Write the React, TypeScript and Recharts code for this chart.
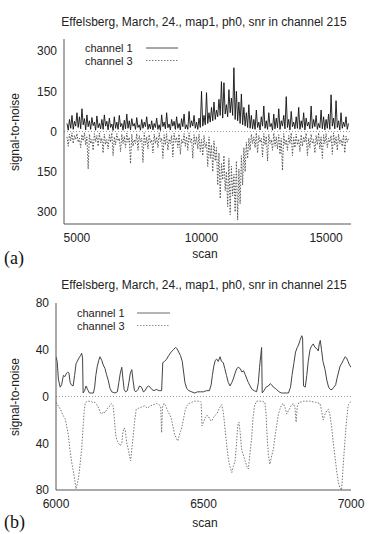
import React from 'react';
import { LineChart, Line, XAxis, YAxis, ReferenceLine } from 'recharts';

const TITLE = 'Effelsberg, March, 24., map1, ph0, snr in channel 215';
const SERIES_NAMES = ['channel 1', 'channel 3'];
const X_LABEL = 'scan';
const Y_LABEL = 'signal-to-noise';
const PANEL_LABELS = ['(a)', '(b)'];

// Panel (a): scans sampled every 50 from 4600
const A_SCAN_START = 4600;
const A_SCAN_STEP = 50;
const A_CH1 = [
  30, 5, 45, 12, 60, 8, 38, 20,
  70, 15, 55, 10, 85, 25, 48, 6, 62, 18, 40, 8, 52, 22, 35, 5, 58, 14, 30, 10,
  45, 8, 62, 20, 38, 6, 50, 15, 28, 4, 55, 12, 35, 8, 60, 18, 30, 5, 42, 10,
  65, 12, 40, 6, 48, 20, 30, 8, 52, 15, 25, 5, 45, 12, 35, 18, 55, 8, 28, 10,
  40, 6, 30, 15, 50, 8, 25, 4, 62, 18, 35, 10, 70, 14, 28, 6, 45, 20, 38, 8,
  55, 12, 30, 6, 48, 18, 65, 10, 25, 8, 75, 15, 40, 20, 60, 12, 35, 8, 50, 15,
  150, 20, 60, 25, 145, 30, 70, 35, 90, 40, 110, 45, 80, 55, 120, 60, 186, 50, 182, 65,
  100, 55, 156, 70, 125, 60, 238, 45, 150, 40, 110, 30, 140, 25, 90, 20, 70, 15, 100, 12,
  60, 10, 45, 8, 80, 15, 35, 6, 55, 20, 95, 12, 40, 8, 70, 18, 30, 5, 65, 10,
  50, 14, 85, 8, 40, 20, 60, 10, 130, 15, 45, 6, 75, 18, 35, 10, 55, 12, 90, 8,
  40, 15, 70, 6, 50, 20, 35, 10, 95, 12, 45, 18, 60, 8, 30, 14, 80, 10, 55, 6,
  45, 12, 65, 8, 137, 20, 50, 10, 115, 15, 40, 6, 70, 12, 35, 18, 55, 8, 30,
];
const A_CH3 = [
  -20, -55, -10, -35, -5, -45, -15, -30,
  -8, -40, -25, -60, -12, -35, -5, -50, -20, -140, -10, -45, -30, -70, -8, -38, -15, -55, -6, -42,
  -25, -80, -10, -48, -30, -65, -12, -40, -5, -90, -20, -50, -8, -35, -25, -75, -10, -45, -18, -60,
  -6, -40, -22, -120, -10, -55, -30, -45, -8, -70, -15, -38, -25, -115, -5, -50, -20, -65, -12, -42,
  -30, -80, -10, -45, -20, -60, -5, -38, -25, -100, -12, -50, -8, -70, -28, -45, -15, -95, -6, -40,
  -22, -60, -10, -85, -30, -45, -8, -55, -18, -70, -5, -40, -25, -100, -12, -50, -20, -65, -10, -75,
  -30, -90, -15, -60, -40, -130, -20, -100, -50, -150, -35, -110, -60, -200, -80, -250, -120, -180, -90, -220,
  -150, -280, -100, -310, -130, -240, -160, -300, -110, -330, -140, -270, -90, -200, -60, -150, -40, -100, -25, -70,
  -10, -45, -20, -60, -5, -80, -15, -40, -25, -95, -8, -50, -18, -110, -10, -45, -30, -70, -6, -55,
  -20, -65, -12, -85, -25, -145, -8, -50, -30, -70, -15, -45, -5, -90, -22, -60, -10, -50, -28, -75,
  -12, -55, -20, -40, -6, -90, -25, -60, -10, -45, -30, -80, -15, -50, -5, -65, -20, -100, -12, -45,
  -8, -60, -25, -40, -15, -85, -5, -50, -20, -70, -10, -45, -30, -55, -12, -80, -18, -40, -25,
];
const A_X_TICKS = [5000, 10000, 15000];
const A_Y_TICKS = [-300, -150, 0, 150, 300];

// Panel (b): [scan, snr] pairs
const B_CH1: [number, number][] = [
  [6000, 34], [6004, 30], [6008, 15], [6014, 8], [6019, 10], [6025, 18], [6030, 17], [6036, 20], [6040, 21], [6044, 20],
  [6048, 12], [6052, 10], [6058, 9], [6063, 18], [6068, 28], [6072, 30], [6078, 33], [6083, 35], [6087, 37], [6090, 33],
  [6092, 3], [6097, 5], [6102, 9], [6107, 6], [6113, 3], [6120, 3], [6127, 3], [6131, 8], [6135, 18], [6140, 26],
  [6145, 31], [6149, 34], [6155, 31], [6160, 27], [6166, 24], [6171, 19], [6177, 14], [6183, 7], [6189, 4], [6200, 3],
  [6208, 4], [6213, 12], [6218, 20], [6223, 25], [6227, 15], [6231, 6], [6236, 4], [6242, 5], [6247, 12], [6252, 20],
  [6257, 23], [6261, 14], [6266, 5], [6271, 4], [6278, 6], [6283, 9], [6290, 8], [6296, 4], [6302, 5], [6308, 8],
  [6314, 9], [6319, 8], [6325, 6], [6332, 5], [6340, 6], [6350, 5], [6358, 5], [6362, 29], [6368, 30], [6375, 32],
  [6382, 35], [6390, 38], [6398, 40], [6405, 42], [6410, 41], [6416, 38], [6422, 35], [6428, 30], [6433, 20], [6437, 12],
  [6443, 7], [6450, 5], [6460, 4], [6470, 3], [6480, 4], [6490, 4], [6500, 4], [6510, 5], [6520, 5], [6526, 10],
  [6530, 18], [6535, 26], [6540, 31], [6545, 32], [6550, 30], [6556, 34], [6561, 30], [6567, 29], [6572, 24], [6578, 18],
  [6584, 12], [6590, 9], [6596, 12], [6601, 15], [6607, 20], [6613, 24], [6618, 25], [6624, 24], [6630, 21], [6636, 22],
  [6641, 19], [6647, 15], [6652, 12], [6658, 9], [6665, 6], [6672, 5], [6680, 4], [6686, 12], [6690, 25], [6694, 35],
  [6697, 42], [6699, 3], [6705, 5], [6712, 8], [6720, 9], [6726, 11], [6731, 10], [6737, 8], [6743, 7], [6748, 6],
  [6756, 4], [6764, 3], [6772, 3], [6780, 3], [6788, 3], [6795, 8], [6800, 18], [6806, 28], [6812, 38], [6818, 42],
  [6822, 44], [6827, 48], [6833, 52], [6836, 50], [6839, 9], [6845, 8], [6850, 18], [6855, 30], [6861, 40], [6866, 43],
  [6872, 45], [6878, 42], [6884, 41], [6889, 39], [6893, 46], [6896, 48], [6900, 40], [6905, 30], [6912, 23], [6918, 14],
  [6924, 8], [6930, 6], [6936, 6], [6942, 8], [6948, 10], [6953, 16], [6958, 21], [6963, 26], [6968, 28], [6974, 31],
  [6980, 34], [6985, 33], [6990, 30], [6995, 27], [7000, 25],
];
const B_CH3: [number, number][] = [
  [6000, -5], [6005, -7], [6010, -9], [6015, -11], [6020, -14], [6026, -17], [6031, -19], [6036, -25], [6042, -33], [6047, -45],
  [6053, -56], [6058, -63], [6064, -72], [6068, -79], [6072, -75], [6076, -70], [6080, -62], [6084, -52], [6087, -45], [6090, -33],
  [6093, -22], [6096, -12], [6099, -6], [6105, -4], [6115, -4], [6125, -5], [6132, -5], [6138, -7], [6145, -10], [6150, -14],
  [6155, -15], [6160, -13], [6166, -14], [6172, -11], [6178, -9], [6183, -8], [6188, -6], [6194, -8], [6198, -20], [6202, -32],
  [6206, -37], [6212, -40], [6218, -42], [6223, -40], [6227, -30], [6231, -27], [6235, -29], [6240, -40], [6245, -45], [6250, -52],
  [6253, -55], [6257, -45], [6262, -33], [6267, -20], [6272, -11], [6280, -10], [6290, -9], [6300, -8], [6310, -10], [6320, -8],
  [6330, -7], [6340, -6], [6350, -7], [6355, -9], [6358, -31], [6361, -9], [6366, -6], [6372, -8], [6378, -12], [6384, -15],
  [6390, -18], [6396, -25], [6402, -32], [6408, -36], [6413, -38], [6418, -33], [6422, -30], [6428, -25], [6433, -18], [6438, -12],
  [6443, -8], [6450, -6], [6460, -5], [6470, -4], [6480, -4], [6488, -4], [6492, -5], [6495, -25], [6500, -22], [6506, -18],
  [6511, -16], [6517, -17], [6522, -20], [6528, -21], [6534, -18], [6540, -16], [6545, -15], [6550, -12], [6556, -9], [6562, -7],
  [6568, -15], [6573, -28], [6579, -42], [6585, -55], [6590, -60], [6596, -65], [6601, -60], [6607, -55], [6612, -40], [6616, -25],
  [6620, -22], [6624, -30], [6629, -45], [6635, -50], [6641, -55], [6647, -60], [6652, -62], [6657, -50], [6663, -36], [6668, -18],
  [6673, -8], [6680, -4], [6690, -4], [6700, -4], [6708, -5], [6712, -15], [6716, -35], [6720, -50], [6725, -58], [6730, -52],
  [6737, -45], [6742, -35], [6748, -25], [6754, -15], [6759, -11], [6765, -7], [6771, -6], [6777, -10], [6782, -15], [6788, -12],
  [6793, -10], [6799, -7], [6805, -6], [6810, -10], [6814, -22], [6818, -8], [6824, -5], [6840, -4], [6860, -4], [6880, -5],
  [6895, -6], [6900, -12], [6906, -20], [6912, -15], [6918, -12], [6923, -11], [6928, -15], [6934, -25], [6940, -40], [6946, -52],
  [6952, -65], [6957, -73], [6962, -78], [6968, -80], [6972, -65], [6976, -50], [6980, -36], [6985, -20], [6991, -7], [7000, -4],
];
const B_X_TICKS = [6000, 6500, 7000];
const B_Y_TICKS = [-80, -40, 0, 40, 80];

const FONT = '"Liberation Sans", Arial, sans-serif';
const AXIS = '#555';
const TEXT = '#222';

const aCh1 = A_CH1.map((y, i) => ({ x: A_SCAN_START + i * A_SCAN_STEP, y }));
const aCh3 = A_CH3.map((y, i) => ({ x: A_SCAN_START + i * A_SCAN_STEP, y }));
const bCh1 = B_CH1.map(([x, y]) => ({ x, y }));
const bCh3 = B_CH3.map(([x, y]) => ({ x, y }));

type PanelProps = {
  height: number;
  margin: { top: number; right: number; bottom: number; left: number };
  xDomain: [number, number];
  yDomain: [number, number];
  xTicks: number[];
  yTicks: number[];
  ch1: { x: number; y: number }[];
  ch3: { x: number; y: number }[];
  ch1Color: string;
  ch3Color: string;
  ch1Width: number;
};

function Panel(p: PanelProps) {
  const tickStyle = { fill: TEXT, fontSize: 12, fontFamily: FONT };
  return (
    <LineChart width={374} height={p.height} margin={p.margin}>
      <XAxis xAxisId="b" type="number" dataKey="x" domain={p.xDomain} ticks={p.xTicks} allowDataOverflow
        tickSize={0} tickMargin={9} height={20} axisLine={{ stroke: AXIS }} tickLine={false} tick={tickStyle} />
      <XAxis xAxisId="bi" type="number" dataKey="x" domain={p.xDomain} ticks={p.xTicks} allowDataOverflow mirror
        tick={false} axisLine={false} tickLine={{ stroke: AXIS }} tickSize={5} height={0} />
      <XAxis xAxisId="t" orientation="top" type="number" dataKey="x" domain={p.xDomain} ticks={p.xTicks} allowDataOverflow mirror
        tick={false} axisLine={{ stroke: AXIS }} tickLine={{ stroke: AXIS }} tickSize={5} height={0} />
      <YAxis yAxisId="l" type="number" dataKey="y" domain={p.yDomain} ticks={p.yTicks} allowDataOverflow
        tickSize={0} tickMargin={7} width={40} axisLine={{ stroke: AXIS }} tickLine={false} tick={tickStyle}
        tickFormatter={(v: number) => String(Math.abs(v))} />
      <YAxis yAxisId="li" type="number" dataKey="y" domain={p.yDomain} ticks={p.yTicks} allowDataOverflow mirror
        tick={false} axisLine={false} tickLine={{ stroke: AXIS }} tickSize={5} width={0} />
      <YAxis yAxisId="r" orientation="right" type="number" dataKey="y" domain={p.yDomain} ticks={p.yTicks} allowDataOverflow mirror
        tick={false} axisLine={{ stroke: AXIS }} tickLine={{ stroke: AXIS }} tickSize={5} width={0} />
      <ReferenceLine xAxisId="b" yAxisId="l" y={0} stroke="#999" strokeDasharray="1 2" />
      <Line xAxisId="b" yAxisId="l" data={p.ch3} dataKey="y" type="linear" stroke={p.ch3Color}
        strokeWidth={1} strokeDasharray="1.5 1.5" dot={false} isAnimationActive={false} />
      <Line xAxisId="b" yAxisId="l" data={p.ch1} dataKey="y" type="linear" stroke={p.ch1Color}
        strokeWidth={p.ch1Width} dot={false} isAnimationActive={false} />
    </LineChart>
  );
}

function Labels(p: { titleY: number; scanY: number; panelY: number; yLabelCy: number;
  legendX: number; legendY: number; sampleX1: number; sampleX2: number; panel: string; ch1Color: string; ch3Color: string; }) {
  const gap = 12.5;
  return (
    <g>
      <text x={204} y={p.titleY} textAnchor="middle" fontFamily={FONT} fontSize={12} fill={TEXT}>{TITLE}</text>
      <text x={205} y={p.scanY} textAnchor="middle" fontFamily={FONT} fontSize={12} fill={TEXT}>{X_LABEL}</text>
      <text x={4} y={p.panelY} fontFamily='"Liberation Serif", serif' fontSize={18} fill="#111">{p.panel}</text>
      <text x={19} y={p.yLabelCy} textAnchor="middle" fontFamily={FONT} fontSize={12} fill={TEXT}
        transform={`rotate(-90 19 ${p.yLabelCy})`}>{Y_LABEL}</text>
      <text x={p.legendX} y={p.legendY} fontFamily={FONT} fontSize={11} fill={TEXT}>{SERIES_NAMES[0]}</text>
      <text x={p.legendX} y={p.legendY + gap} fontFamily={FONT} fontSize={11} fill={TEXT}>{SERIES_NAMES[1]}</text>
      <line x1={p.sampleX1} x2={p.sampleX2} y1={p.legendY - 4} y2={p.legendY - 4} stroke={p.ch1Color} strokeWidth={0.8} />
      <line x1={p.sampleX1} x2={p.sampleX2} y1={p.legendY + gap - 4} y2={p.legendY + gap - 4} stroke={p.ch3Color} strokeWidth={0.8} strokeDasharray="1.5 1.5" />
    </g>
  );
}

export default function App() {
  return (
    <div style={{ position: 'absolute', left: 0, top: 0, width: 374, height: 534, background: '#fff', overflow: 'hidden' }}>
      <div style={{ position: 'absolute', left: 0, top: 0 }}>
        <Panel height={270} margin={{ top: 39, right: 23, bottom: 26, left: 24 }}
          xDomain={[4480, 16000]} yDomain={[-345, 345]} xTicks={A_X_TICKS} yTicks={A_Y_TICKS}
          ch1={aCh1} ch3={aCh3} ch1Color="#111" ch3Color="#555" ch1Width={0.9} />
      </div>
      <div style={{ position: 'absolute', left: 0, top: 270 }}>
        <Panel height={264} margin={{ top: 33, right: 23, bottom: 24, left: 16 }}
          xDomain={[6000, 7000]} yDomain={[-80, 80]} xTicks={B_X_TICKS} yTicks={B_Y_TICKS}
          ch1={bCh1} ch3={bCh3} ch1Color="#444" ch3Color="#777" ch1Width={1} />
      </div>
      <svg width={374} height={534} style={{ position: 'absolute', left: 0, top: 0, pointerEvents: 'none' }}>
        <Labels titleY={26} scanY={258} panelY={264} yLabelCy={132} legendX={85} legendY={52}
          sampleX1={146} sampleX2={178} panel={PANEL_LABELS[0]} ch1Color="#222" ch3Color="#555" />
        <Labels titleY={289} scanY={527} panelY={528} yLabelCy={397} legendX={77} legendY={317}
          sampleX1={137} sampleX2={170} panel={PANEL_LABELS[1]} ch1Color="#444" ch3Color="#777" />
      </svg>
    </div>
  );
}
